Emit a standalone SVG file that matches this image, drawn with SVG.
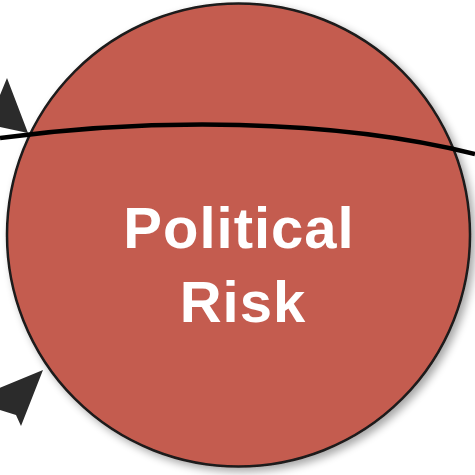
<svg xmlns="http://www.w3.org/2000/svg" width="475" height="475" viewBox="0 0 475 475">
<defs>
<filter id="sh" x="-10%" y="-10%" width="125%" height="125%">
<feGaussianBlur in="SourceAlpha" stdDeviation="4"/>
<feOffset dx="4" dy="4" result="b"/>
<feComponentTransfer><feFuncA type="linear" slope="0.35"/></feComponentTransfer>
<feMerge><feMergeNode/><feMergeNode in="SourceGraphic"/></feMerge>
</filter>
<style>
.arrow{fill:#2b2b2b;}
.lbl{font-family:"Liberation Sans",Arial,sans-serif;font-weight:bold;font-size:58px;fill:#ffffff;text-anchor:middle;letter-spacing:1px;}
</style>
</defs>
<rect width="475" height="475" fill="#ffffff"/>
<g id="connectors">
<path class="arrow" d="M28,133 L7,78 L0,95 L-10,99 L-10,126 L0,127 Z"/>
<path class="arrow" d="M43,370 L-10,392 L-10,408 L0,410 L16,415 L21,426 Z"/>
</g>
<g id="political-risk">
<circle cx="238.5" cy="235" r="231.5" fill="#c45c4f" stroke="#1e1a1a" stroke-width="2.5" filter="url(#sh)"/>
<text class="lbl" x="239" y="248">Political</text>
<text class="lbl" x="243" y="322">Risk</text>
</g>
<g id="line">
<path d="M0,138 C150,118 330,118 475,154" fill="none" stroke="#000000" stroke-width="4.5"/>
</g>
</svg>
